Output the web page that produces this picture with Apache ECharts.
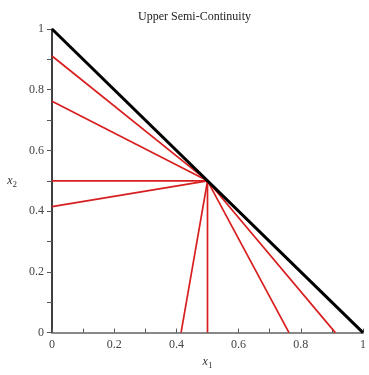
<!DOCTYPE html>
<html><head><meta charset="utf-8">
<script src="https://cdn.jsdelivr.net/npm/echarts@6/dist/echarts.min.js"></script>
<style>html,body{margin:0;padding:0;background:#fff}#c{width:369px;height:375px}</style>
</head><body><div id="c"></div>
<script>
const titleText = 'Upper Semi-Continuity';
const center = [0.5, 0.5];
const leftEnds = [0.911, 0.762, 0.5, 0.415];   // x2 where red lines meet x1 = 0
const bottomEnds = [0.415, 0.5, 0.762, 0.911]; // x1 where red lines meet x2 = 0
const boundaryX = [0, 1];
const boundaryY = [1, 0];

const font = 'Liberation Serif, Times New Roman, serif';
const series = [];
leftEnds.forEach(v => series.push({type:'line', data:[[0, v], center], symbol:'none', lineStyle:{color:'#d81e1e', width:1.7}, z:2, animation:false}));
bottomEnds.forEach(v => series.push({type:'line', data:[[v, 0], center], symbol:'none', lineStyle:{color:'#d81e1e', width:1.7}, z:2, animation:false}));
series.push({type:'line', data:boundaryX.map((x,i)=>[x, boundaryY[i]]), symbol:'none', lineStyle:{color:'#000', width:3}, z:3, animation:false});

const chart = echarts.init(document.getElementById('c'));
chart.setOption({
  animation:false,
  title:{text:titleText, left:133, top:6, textStyle:{fontFamily:font, fontSize:12, fontWeight:'normal', color:'#222'}},
  grid:{left:52, right:1, top:29, bottom:39, containLabel:false},
  xAxis:{type:'value', min:0, max:1, interval:0.2,
    name:'{i|x}{s|1}', nameLocation:'middle', nameGap:19,
    nameTextStyle:{rich:{i:{fontFamily:font, fontStyle:'italic', fontSize:12, color:'#333'}, s:{fontFamily:font, fontSize:9, color:'#333', padding:[8,0,0,0]}}},
    axisLine:{show:true, onZero:false, lineStyle:{color:'#888', width:2}},
    axisTick:{show:true, inside:true, length:4, lineStyle:{color:'#555'}},
    minorTick:{show:true, splitNumber:2, length:4, lineStyle:{color:'#555'}},
    axisLabel:{fontFamily:font, fontSize:12, color:'#444', margin:6, formatter:v=>String(+v.toFixed(1))},
    splitLine:{show:false}},
  yAxis:{type:'value', min:0, max:1, interval:0.2,
    name:'{i|x}{s|2}', nameLocation:'middle', nameGap:35, nameRotate:0,
    nameTextStyle:{rich:{i:{fontFamily:font, fontStyle:'italic', fontSize:12, color:'#333'}, s:{fontFamily:font, fontSize:9, color:'#333', padding:[8,0,0,0]}}},
    axisLine:{show:true, onZero:false, lineStyle:{color:'#000', width:1.5}},
    axisTick:{show:true, inside:false, length:5, lineStyle:{color:'#555'}},
    minorTick:{show:true, splitNumber:2, length:5, lineStyle:{color:'#555'}},
    axisLabel:{fontFamily:font, fontSize:12, color:'#444', margin:8, formatter:v=>String(+v.toFixed(1))},
    splitLine:{show:false}},
  series
});
</script></body></html>
